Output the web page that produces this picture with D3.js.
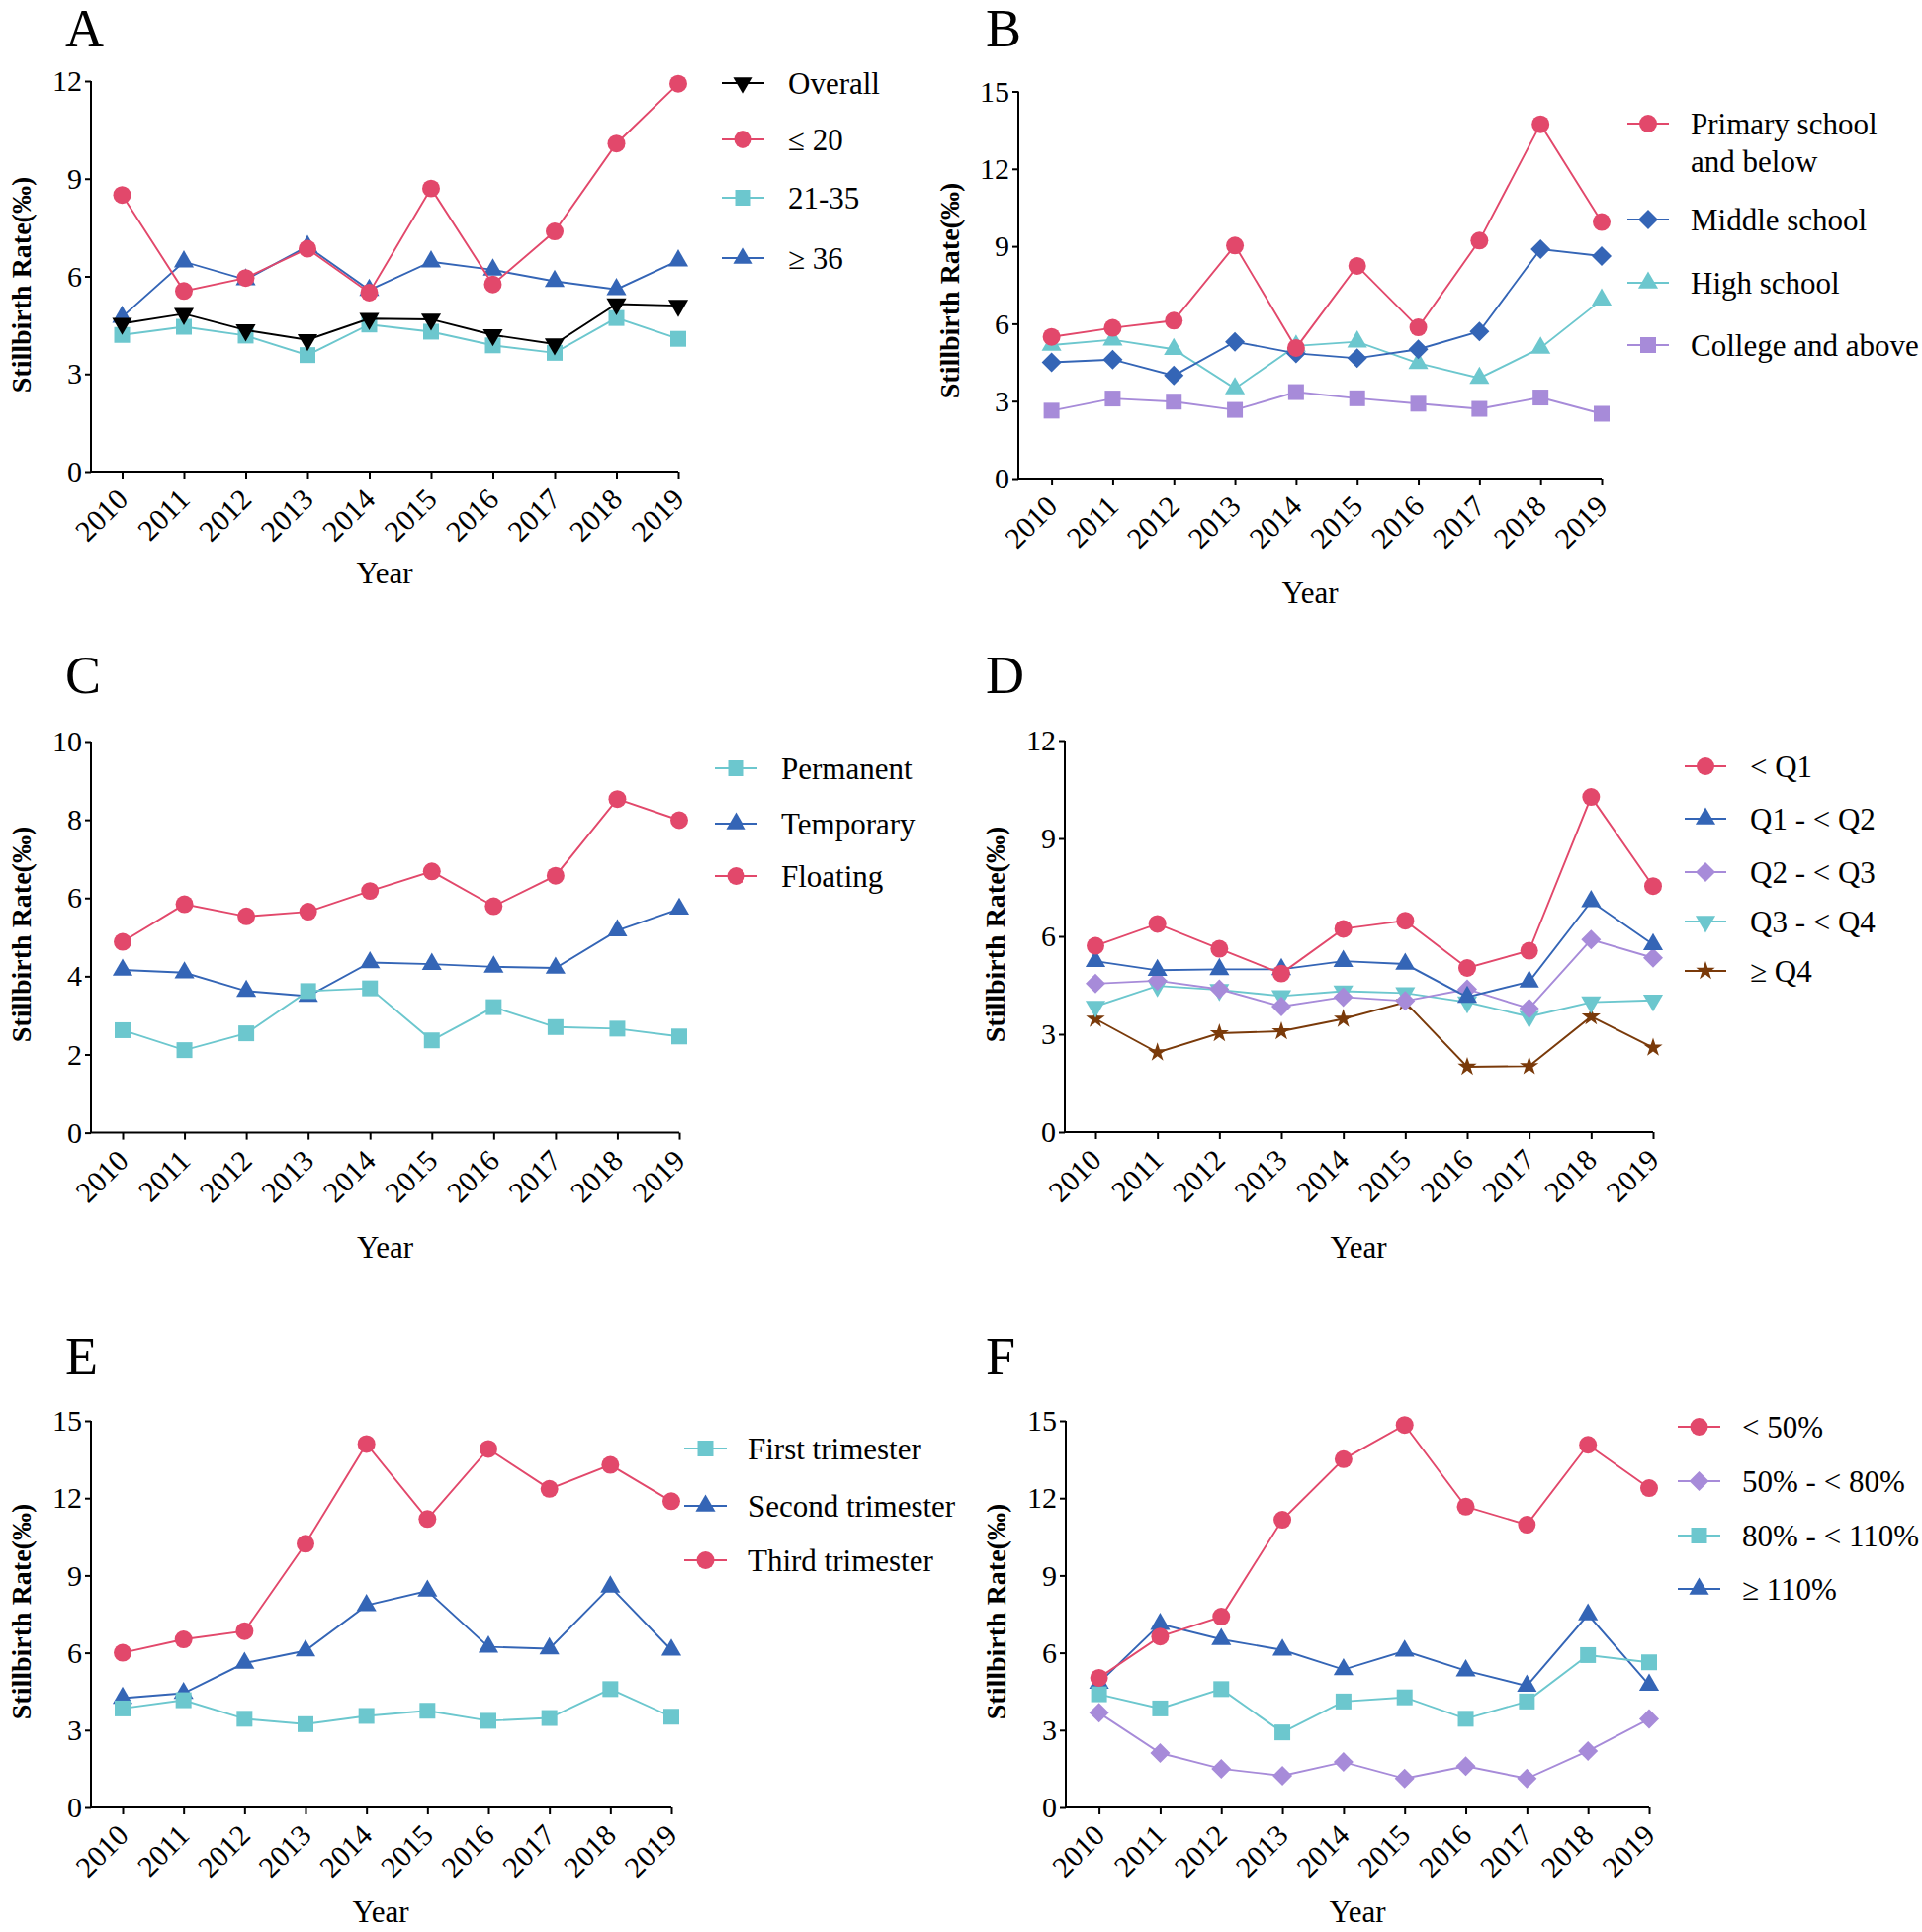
<!DOCTYPE html>
<html><head><meta charset="utf-8">
<script src="https://cdn.jsdelivr.net/npm/d3@7"></script>
<style>
body{margin:0;background:#fff}
svg{display:block}
text{font-family:"Liberation Serif","Times New Roman",serif;fill:#000}
</style>
</head><body>
<svg id="c" width="1944" height="1954"></svg>
<script>
// ---------- data ----------
const years = [2010, 2011, 2012, 2013, 2014, 2015, 2016, 2017, 2018, 2019];
const yearLabels = ["2010","2011","2012","2013","2014","2015","2016","2017","2018","2019"];

// Panel A: maternal age
const aOverall = [4.55, 4.85, 4.35, 4.05, 4.70, 4.68, 4.20, 3.92, 5.15, 5.10];
const aLe20    = [8.50, 5.55, 5.95, 6.85, 5.50, 8.70, 5.75, 7.38, 10.08, 11.92];
const a21to35  = [4.20, 4.45, 4.18, 3.58, 4.52, 4.30, 3.88, 3.65, 4.72, 4.08];
const aGe36    = [4.75, 6.45, 5.90, 6.92, 5.58, 6.45, 6.20, 5.85, 5.60, 6.48];
const ticksA   = [0, 3, 6, 9, 12];

// Panel B: education
const bPrimary = [5.49, 5.84, 6.12, 9.03, 5.06, 8.24, 5.86, 9.22, 13.73, 9.94];
const bMiddle  = [4.50, 4.61, 3.99, 5.30, 4.85, 4.66, 5.01, 5.70, 8.89, 8.62];
const bHigh    = [5.17, 5.38, 5.01, 3.49, 5.14, 5.30, 4.47, 3.89, 5.06, 6.93];
const bCollege = [2.63, 3.10, 2.98, 2.66, 3.35, 3.11, 2.90, 2.70, 3.14, 2.51];
const ticksB   = [0, 3, 6, 9, 12, 15];

// Panel C: residence
const cPermanent = [2.62, 2.11, 2.54, 3.62, 3.69, 2.36, 3.21, 2.70, 2.66, 2.46];
const cTemporary = [4.16, 4.09, 3.62, 3.49, 4.35, 4.31, 4.24, 4.21, 5.17, 5.72];
const cFloating  = [4.88, 5.84, 5.53, 5.65, 6.18, 6.68, 5.79, 6.57, 8.53, 7.99];
const ticksC     = [0, 2, 4, 6, 8, 10];

// Panel D: quartiles
const dLtQ1  = [5.71, 6.38, 5.62, 4.86, 6.23, 6.48, 5.03, 5.56, 10.27, 7.54];
const dQ1Q2  = [5.24, 4.96, 4.99, 4.99, 5.24, 5.15, 4.14, 4.61, 7.07, 5.75];
const dQ2Q3  = [4.55, 4.64, 4.38, 3.85, 4.14, 4.02, 4.38, 3.79, 5.90, 5.34];
const dQ3Q4  = [3.85, 4.48, 4.36, 4.17, 4.32, 4.26, 3.98, 3.54, 3.98, 4.04];
const dGeQ4  = [3.47, 2.44, 3.03, 3.09, 3.47, 3.98, 2.00, 2.02, 3.54, 2.59];
const ticksD = [0, 3, 6, 9, 12];

// Panel E: trimester
const eFirst  = [3.84, 4.16, 3.44, 3.23, 3.55, 3.75, 3.36, 3.47, 4.59, 3.52];
const eSecond = [4.24, 4.43, 5.60, 6.08, 7.84, 8.40, 6.23, 6.16, 8.56, 6.11];
const eThird  = [6.00, 6.52, 6.84, 10.23, 14.10, 11.19, 13.91, 12.36, 13.29, 11.88];
const ticksE  = [0, 3, 6, 9, 12, 15];

// Panel F: percentages
const fLt50    = [5.03, 6.63, 7.40, 11.16, 13.51, 14.84, 11.67, 10.97, 14.07, 12.39];
const f50to80  = [3.67, 2.11, 1.50, 1.23, 1.76, 1.12, 1.60, 1.12, 2.19, 3.43];
const f80to110 = [4.39, 3.84, 4.59, 2.91, 4.11, 4.27, 3.44, 4.11, 5.91, 5.63];
const fGe110   = [4.83, 7.11, 6.52, 6.11, 5.35, 6.07, 5.31, 4.71, 7.48, 4.75];
const ticksF   = [0, 3, 6, 9, 12, 15];

// ---------- styling ----------
const RED = "#E2486B", BLUE = "#3465B6", CYAN = "#6CC7CE", PURPLE = "#A78BD9", BROWN = "#7A3A0A", BLACK = "#000000";
const FONT_TICK = 30, FONT_XTICK = 30, FONT_LEG = 31, FONT_TITLE = 28, FONT_LETTER = 54;

const panels = [
  { letter:"A", lx:66, ly:47, axisX:92, yTop:82, yBot:477, x0:123.5, x1:686, ticks:ticksA,
    yearX:389, yearY:590, titleX:31, titleY:288,
    leg:{x1:730, x2:773, tx:797, ys:[84,141,200,261]},
    series:[
      {label:["Overall"], data:aOverall, color:BLACK, sym:"triDown"},
      {label:["\u2264 20"], data:aLe20, color:RED, sym:"circle"},
      {label:["21-35"], data:a21to35, color:CYAN, sym:"square"},
      {label:["\u2265 36"], data:aGe36, color:BLUE, sym:"triUp"} ]},
  { letter:"B", lx:997, ly:47, axisX:1030, yTop:92.5, yBot:484, x0:1063.6, x1:1620, ticks:ticksB,
    yearX:1325, yearY:610, titleX:970, titleY:294,
    leg:{x1:1646, x2:1688, tx:1710, ys:[125,222,286,349]},
    series:[
      {label:["Primary school","and below"], data:bPrimary, color:RED, sym:"circle"},
      {label:["Middle school"], data:bMiddle, color:BLUE, sym:"diamond"},
      {label:["High school"], data:bHigh, color:CYAN, sym:"triUp"},
      {label:["College and above"], data:bCollege, color:PURPLE, sym:"square"} ]},
  { letter:"C", lx:66, ly:701, axisX:92, yTop:750, yBot:1145.6, x0:124, x1:687, ticks:ticksC,
    yearX:389.5, yearY:1272, titleX:31, titleY:945,
    leg:{x1:723, x2:766, tx:790, ys:[777,833,886]},
    series:[
      {label:["Permanent"], data:cPermanent, color:CYAN, sym:"square"},
      {label:["Temporary"], data:cTemporary, color:BLUE, sym:"triUp"},
      {label:["Floating"], data:cFloating, color:RED, sym:"circle"} ]},
  { letter:"D", lx:997, ly:701, axisX:1077, yTop:749, yBot:1145, x0:1108, x1:1672, ticks:ticksD,
    yearX:1374, yearY:1272, titleX:1016, titleY:945,
    leg:{x1:1704, x2:1746, tx:1770, ys:[775,828,882,932,982]},
    series:[
      {label:["< Q1"], data:dLtQ1, color:RED, sym:"circle"},
      {label:["Q1 - < Q2"], data:dQ1Q2, color:BLUE, sym:"triUp"},
      {label:["Q2 - < Q3"], data:dQ2Q3, color:PURPLE, sym:"diamond"},
      {label:["Q3 - < Q4"], data:dQ3Q4, color:CYAN, sym:"triDown"},
      {label:["\u2265 Q4"], data:dGeQ4, color:BROWN, sym:"star"} ]},
  { letter:"E", lx:66, ly:1390, axisX:92, yTop:1437, yBot:1828, x0:124, x1:679, ticks:ticksE,
    yearX:385, yearY:1944, titleX:31, titleY:1630,
    leg:{x1:692, x2:735, tx:757, ys:[1465,1523,1578]},
    series:[
      {label:["First trimester"], data:eFirst, color:CYAN, sym:"square"},
      {label:["Second trimester"], data:eSecond, color:BLUE, sym:"triUp"},
      {label:["Third trimester"], data:eThird, color:RED, sym:"circle"} ]},
  { letter:"F", lx:997, ly:1390, axisX:1078, yTop:1437, yBot:1828, x0:1111.6, x1:1668, ticks:ticksF,
    yearX:1373, yearY:1944, titleX:1017, titleY:1630,
    leg:{x1:1697, x2:1740, tx:1762, ys:[1443,1498,1553,1607]},
    series:[
      {label:["< 50%"], data:fLt50, color:RED, sym:"circle"},
      {label:["50% - < 80%"], data:f50to80, color:PURPLE, sym:"diamond"},
      {label:["80% - < 110%"], data:f80to110, color:CYAN, sym:"square"},
      {label:["\u2265 110%"], data:fGe110, color:BLUE, sym:"triUp"} ]}
];

const symDefs = {
  circle:  {type:d3.symbolCircle,   size:254, rot:0},
  square:  {type:d3.symbolSquare,   size:256, rot:0},
  triUp:   {type:d3.symbolTriangle, size:175, rot:0},
  triDown: {type:d3.symbolTriangle, size:175, rot:180},
  diamond: {type:d3.symbolSquare,   size:200, rot:45},
  star:    {type:d3.symbolStar,     size:115, rot:0}
};
function drawSym(g, name, color, x, y){
  const s = symDefs[name];
  g.append("path")
    .attr("d", d3.symbol().type(s.type).size(s.size)())
    .attr("transform", `translate(${x},${y}) rotate(${s.rot})`)
    .attr("fill", color);
}

const svg = d3.select("#c");

panels.forEach(p => {
  const g = svg.append("g");
  const ymax = p.ticks[p.ticks.length-1];
  const x = d3.scalePoint().domain(years).range([p.x0, p.x1]);
  const y = d3.scaleLinear().domain([0, ymax]).range([p.yBot, p.yTop]);

  // panel letter
  g.append("text").attr("x", p.lx).attr("y", p.ly)
    .attr("font-size", FONT_LETTER).text(p.letter);

  // y axis
  const yAxis = d3.axisLeft(y).tickValues(p.ticks).tickSize(6).tickPadding(3).tickSizeOuter(0)
    .tickFormat(d3.format("d"));
  const ya = g.append("g").attr("transform", `translate(${p.axisX},0)`).call(yAxis);
  ya.select(".domain").attr("stroke","#000").attr("stroke-width",2)
    .attr("d", `M0,${p.yTop}V${p.yBot}`);
  ya.selectAll(".tick line").attr("stroke","#000").attr("stroke-width",2);
  ya.selectAll(".tick text").attr("font-size", FONT_TICK)
    .attr("font-family","Liberation Serif, Times New Roman, serif").attr("fill","#000");

  // x axis
  const xAxis = d3.axisBottom(x).tickSize(7).tickSizeOuter(0).tickFormat((d,i)=>yearLabels[i]);
  const xa = g.append("g").attr("transform", `translate(0,${p.yBot})`).call(xAxis);
  xa.select(".domain").attr("stroke","#000").attr("stroke-width",2)
    .attr("d", `M${p.axisX-1},0H${p.x1}`);
  xa.selectAll(".tick line").attr("stroke","#000").attr("stroke-width",2);
  xa.selectAll(".tick text")
    .attr("font-size", FONT_XTICK)
    .attr("font-family","Liberation Serif, Times New Roman, serif").attr("fill","#000")
    .attr("text-anchor","end")
    .attr("dy", null)
    .attr("y", null)
    .attr("transform","translate(7,30) rotate(-45)");

  // axis titles
  g.append("text").attr("x", p.yearX).attr("y", p.yearY)
    .attr("text-anchor","middle").attr("font-size", 31).text("Year");
  g.append("text")
    .attr("transform", `translate(${p.titleX},${p.titleY}) rotate(-90)`)
    .attr("text-anchor","middle").attr("font-size", FONT_TITLE).attr("font-weight","bold")
    .text("Stillbirth Rate(\u2030)");

  // series (drawn in reverse order so the first legend entry is on top)
  const line = d3.line().x((d,i)=>x(years[i])).y(d=>y(d));
  p.series.slice().reverse().forEach(s => {
    const sg = g.append("g");
    sg.append("path").attr("d", line(s.data)).attr("fill","none")
      .attr("stroke", s.color).attr("stroke-width", 1.9);
    s.data.forEach((v,i) => drawSym(sg, s.sym, s.color, x(years[i]), y(v)));
  });

  // legend
  p.series.forEach((s,k) => {
    const ly = p.leg.ys[k];
    g.append("line").attr("x1", p.leg.x1).attr("x2", p.leg.x2).attr("y1", ly).attr("y2", ly)
      .attr("stroke", s.color).attr("stroke-width", 2);
    drawSym(g, s.sym, s.color, (p.leg.x1+p.leg.x2)/2, ly);
    s.label.forEach((t,j) => {
      g.append("text").attr("x", p.leg.tx).attr("y", ly + j*38).attr("dy","0.35em")
        .attr("font-size", FONT_LEG).text(t);
    });
  });
});
</script>
</body></html>
